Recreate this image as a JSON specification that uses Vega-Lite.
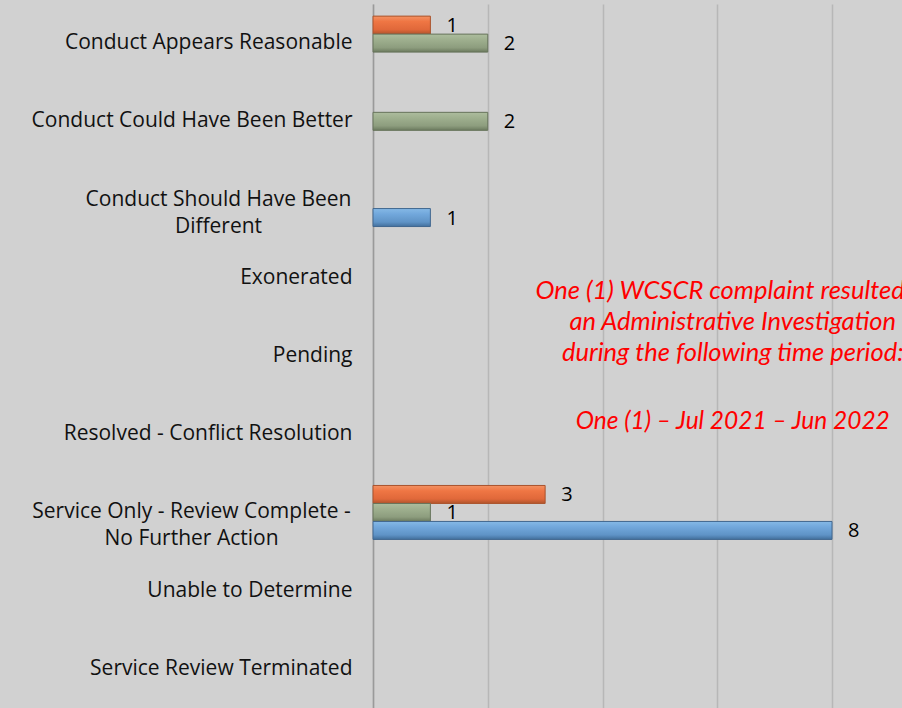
{
  "$schema": "https://vega.github.io/schema/vega-lite/v6.json",
  "width": 529,
  "height": 704,
  "autosize": {"type": "none"},
  "padding": {"left": 373, "top": 4, "right": 0, "bottom": 0},
  "background": "#d1d1d1",
  "config": {
    "view": {"stroke": null},
    "font": "Open Sans"
  },
  "datasets": {
    "bars": [
      {"outcome": "Conduct Appears Reasonable", "period": "2021-2022", "count": 1},
      {"outcome": "Conduct Appears Reasonable", "period": "2020-2021", "count": 2},
      {"outcome": "Conduct Could Have Been Better", "period": "2020-2021", "count": 2},
      {"outcome": "Conduct Should Have Been|Different", "period": "2019-2020", "count": 1},
      {"outcome": "Service Only - Review Complete -|No Further Action", "period": "2021-2022", "count": 3},
      {"outcome": "Service Only - Review Complete -|No Further Action", "period": "2020-2021", "count": 1},
      {"outcome": "Service Only - Review Complete -|No Further Action", "period": "2019-2020", "count": 8}
    ],
    "note1": [
      {"outcome": "Pending", "pos": 6.27, "text": ["One (1) WCSCR complaint resulted in", "an Administrative Investigation", "during the following time period:"]}
    ],
    "note2": [
      {"outcome": "Pending", "pos": 6.27, "text": "One (1) – Jul 2021 – Jun 2022"}
    ]
  },
  "data": {"name": "bars"},
  "encoding": {
    "y": {
      "field": "outcome",
      "type": "nominal",
      "sort": null,
      "scale": {
        "domain": [
          "Conduct Appears Reasonable",
          "Conduct Could Have Been Better",
          "Conduct Should Have Been|Different",
          "Exonerated",
          "Pending",
          "Resolved - Conflict Resolution",
          "Service Only - Review Complete -|No Further Action",
          "Unable to Determine",
          "Service Review Terminated"
        ],
        "paddingInner": 0.31,
        "paddingOuter": 0.155
      },
      "axis": {
        "title": null,
        "ticks": false,
        "domainColor": "#9a9a9a",
        "domainWidth": 1.5,
        "labelFont": "Open Sans",
        "labelFontSize": 21,
        "labelColor": "#111111",
        "labelLineHeight": 27,
        "labelExpr": "split(datum.label, '|')",
        "labelAlign": {"condition": {"test": "indexof(datum.value, '|') >= 0", "value": "center"}, "value": "right"},
        "labelPadding": {"condition": [
          {"test": "indexof(datum.value, 'Different') >= 0", "value": 155},
          {"test": "indexof(datum.value, 'Further') >= 0", "value": 182}
        ], "value": 21},
        "labelLimit": 400
      }
    },
    "x": {
      "field": "count",
      "type": "quantitative",
      "scale": {"domain": [0, 9.22], "nice": false, "zero": true},
      "axis": {
        "title": null,
        "labels": false,
        "ticks": false,
        "domain": false,
        "values": [0, 2, 4, 6, 8],
        "grid": true,
        "gridColor": "#b7b7b7",
        "gridWidth": 1.5
      }
    },
    "yOffset": {
      "field": "period",
      "type": "nominal",
      "scale": {"domain": ["2021-2022", "2020-2021", "2019-2020"], "paddingInner": 0, "paddingOuter": 0}
    }
  },
  "layer": [
    {
      "transform": [{"filter": "datum.period === '2021-2022'"}],
      "mark": {
        "type": "bar",
        "stroke": "#a9522c",
        "strokeWidth": 1,
        "fill": {"gradient": "linear", "x1": 0, "y1": 0, "x2": 0, "y2": 1, "stops": [
          {"offset": 0, "color": "#f39263"},
          {"offset": 0.3, "color": "#ef7644"},
          {"offset": 0.75, "color": "#e0683a"},
          {"offset": 1, "color": "#b0552d"}
        ]}
      }
    },
    {
      "transform": [{"filter": "datum.period === '2020-2021'"}],
      "mark": {
        "type": "bar",
        "stroke": "#66735a",
        "strokeWidth": 1,
        "fill": {"gradient": "linear", "x1": 0, "y1": 0, "x2": 0, "y2": 1, "stops": [
          {"offset": 0, "color": "#adbd9e"},
          {"offset": 0.3, "color": "#9fb08f"},
          {"offset": 0.75, "color": "#8d9d7e"},
          {"offset": 1, "color": "#6b7a5e"}
        ]}
      }
    },
    {
      "transform": [{"filter": "datum.period === '2019-2020'"}],
      "mark": {
        "type": "bar",
        "stroke": "#41678f",
        "strokeWidth": 1,
        "fill": {"gradient": "linear", "x1": 0, "y1": 0, "x2": 0, "y2": 1, "stops": [
          {"offset": 0, "color": "#86b9e6"},
          {"offset": 0.3, "color": "#72a8dc"},
          {"offset": 0.75, "color": "#5f93c6"},
          {"offset": 1, "color": "#426f9c"}
        ]}
      }
    },
    {
      "mark": {"type": "text", "align": "left", "baseline": "middle", "dx": 16, "dy": 1, "fontSize": 20, "font": "Open Sans", "color": "#000000"},
      "encoding": {"text": {"field": "count", "type": "quantitative"}}
    },
    {
      "data": {"name": "note1"},
      "mark": {"type": "text", "align": "center", "baseline": "middle", "fontSize": 25.5, "font": "Lato", "fontStyle": "italic", "color": "#ff0000", "lineHeight": 31, "dy": -65, "clip": true},
      "encoding": {
        "x": {"field": "pos", "type": "quantitative"},
        "y": {"field": "outcome", "type": "nominal"},
        "text": {"field": "text"},
        "yOffset": null
      }
    },
    {
      "data": {"name": "note2"},
      "mark": {"type": "text", "align": "center", "baseline": "middle", "fontSize": 24.5, "font": "Lato", "fontStyle": "italic", "color": "#ff0000", "dy": 66, "clip": true},
      "encoding": {
        "x": {"field": "pos", "type": "quantitative"},
        "y": {"field": "outcome", "type": "nominal"},
        "text": {"field": "text"},
        "yOffset": null
      }
    }
  ]
}
